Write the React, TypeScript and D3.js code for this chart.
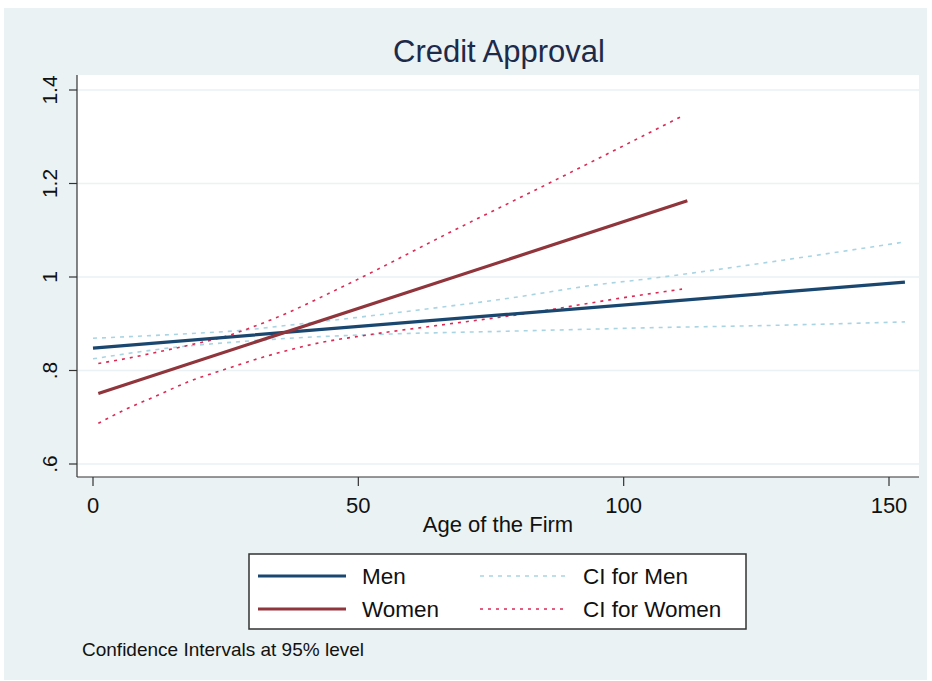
import React from "react";
import * as d3 from "d3";

// ---- data ----
const xTicks = [0, 50, 100, 150];
const yTicks = [0.6, 0.8, 1.0, 1.2, 1.4];
const yTickLabels = [".6", ".8", "1", "1.2", "1.4"];

const menAge = [0, 78, 153];
const menVal = [0.848, 0.92, 0.989];

const womenAge = [1, 56, 112];
const womenVal = [0.751, 0.955, 1.163];

const menCIAge = [0, 15, 28, 37, 56, 78, 96, 103, 130, 153];
const menUpper = [0.869, 0.877, 0.886, 0.897, 0.922, 0.954, 0.985, 0.994, 1.036, 1.075];
const menLower = [0.825, 0.849, 0.862, 0.869, 0.878, 0.884, 0.889, 0.891, 0.897, 0.904];

const womenUpAge = [1, 6, 12, 18, 25, 31, 37, 43, 49, 67, 86, 111];
const womenUpper = [0.815, 0.825, 0.839, 0.854, 0.873, 0.897, 0.925, 0.957, 0.99, 1.094, 1.201, 1.344];

const womenLoAge = [1, 6, 12, 18, 25, 31, 37, 43, 50, 56, 62, 68, 78, 103, 111];
const womenLower = [0.687, 0.716, 0.746, 0.776, 0.803, 0.825, 0.844, 0.86, 0.873, 0.883, 0.892, 0.901, 0.916, 0.961, 0.974];

const legendItems = ["Men", "Women", "CI for Men", "CI for Women"];

// ---- styles ----
const FONT = "'Liberation Sans', Arial, Helvetica, sans-serif";
const BG = "#eaf2f3";
const C_MEN = "#1a476f";
const C_WOMEN = "#90353b";
const C_CIMEN = "#a9d4e4";
const C_CIWOMEN = "#dc2a55";

export default function App() {
  const W = 932;
  const H = 681;
  const plot = { left: 77, right: 919, top: 75, bottom: 477 };
  const x = d3.scaleLinear().domain([0, 150]).range([93, 889]);
  const y = d3.scaleLinear().domain([0.6, 1.4]).range([464, 90]);

  const straight = d3
    .line<[number, number]>()
    .x((d) => x(d[0]))
    .y((d) => y(d[1]));
  const smooth = d3
    .line<[number, number]>()
    .x((d) => x(d[0]))
    .y((d) => y(d[1]))
    .curve(d3.curveMonotoneX);

  const zip = (a: number[], b: number[]) => a.map((v, i) => [v, b[i]] as [number, number]);

  const series = [
    { d: smooth(zip(menCIAge, menUpper)), c: C_CIMEN, w: 1.6, dash: "4,5" },
    { d: smooth(zip(menCIAge, menLower)), c: C_CIMEN, w: 1.6, dash: "4,5" },
    { d: smooth(zip(womenUpAge, womenUpper)), c: C_CIWOMEN, w: 1.6, dash: "3,5" },
    { d: smooth(zip(womenLoAge, womenLower)), c: C_CIWOMEN, w: 1.6, dash: "3,5" },
    { d: straight(zip(menAge, menVal)), c: C_MEN, w: 3.2, dash: undefined },
    { d: straight(zip(womenAge, womenVal)), c: C_WOMEN, w: 3.2, dash: undefined },
  ];

  const legend = { x: 249, y: 554, w: 497, h: 75 };
  const legendRows = [576, 609];
  const legendStyle = [
    { c: C_MEN, w: 3.2, dash: undefined },
    { c: C_WOMEN, w: 3.2, dash: undefined },
    { c: C_CIMEN, w: 1.6, dash: "4,5" },
    { c: C_CIWOMEN, w: 1.6, dash: "3,5" },
  ];

  return (
    <svg
      width={W}
      height={H}
      style={{ position: "absolute", left: 0, top: 0, background: "#fff" }}
      fontFamily={FONT}
    >
      <rect x={4} y={8} width={923} height={672} fill={BG} />
      <rect
        x={plot.left}
        y={plot.top}
        width={plot.right - plot.left}
        height={plot.bottom - plot.top}
        fill="#fff"
      />
      {/* gridlines */}
      {yTicks.map((t) => (
        <line
          key={"g" + t}
          x1={plot.left}
          x2={plot.right}
          y1={y(t)}
          y2={y(t)}
          stroke={BG}
          strokeWidth={1.6}
        />
      ))}
      {/* title */}
      <text x={499} y={62} textAnchor="middle" fontSize={31} fill="#1e2a4a">
        Credit Approval
      </text>
      {/* axes */}
      <line x1={plot.left} x2={plot.left} y1={plot.top} y2={plot.bottom} stroke="#333" strokeWidth={1.2} />
      <line x1={plot.left} x2={plot.right} y1={plot.bottom} y2={plot.bottom} stroke="#333" strokeWidth={1.2} />
      {yTicks.map((t, i) => (
        <g key={"yt" + t}>
          <line x1={plot.left - 8} x2={plot.left} y1={y(t)} y2={y(t)} stroke="#333" strokeWidth={1.2} />
          <text
            transform={`translate(57,${y(t)}) rotate(-90)`}
            textAnchor="middle"
            fontSize={21}
            fill="#111"
          >
            {yTickLabels[i]}
          </text>
        </g>
      ))}
      {xTicks.map((t) => (
        <g key={"xt" + t}>
          <line x1={x(t)} x2={x(t)} y1={plot.bottom} y2={plot.bottom + 9} stroke="#333" strokeWidth={1.2} />
          <text x={x(t)} y={513} textAnchor="middle" fontSize={22} fill="#111">
            {t}
          </text>
        </g>
      ))}
      <text x={498} y={532} textAnchor="middle" fontSize={22} fill="#111">
        Age of the Firm
      </text>
      {/* series */}
      {series.map((s, i) => (
        <path
          key={"s" + i}
          d={s.d || ""}
          fill="none"
          stroke={s.c}
          strokeWidth={s.w}
          strokeDasharray={s.dash}
        />
      ))}
      {/* legend */}
      <rect
        x={legend.x}
        y={legend.y}
        width={legend.w}
        height={legend.h}
        fill="#fff"
        stroke="#333"
        strokeWidth={1.5}
      />
      {legendItems.map((name, i) => {
        const col = i < 2 ? 0 : 1;
        const row = i % 2;
        const lx = col === 0 ? 258 : 480;
        const tx = col === 0 ? 362 : 583;
        const cy = legendRows[row];
        const st = legendStyle[i];
        return (
          <g key={name}>
            <line x1={lx} x2={lx + 88} y1={cy} y2={cy} stroke={st.c} strokeWidth={st.w} strokeDasharray={st.dash} />
            <text x={tx} y={cy + 8} fontSize={22.5} fill="#111">
              {name}
            </text>
          </g>
        );
      })}
      <text x={82} y={656} fontSize={19} fill="#111">
        Confidence Intervals at 95% level
      </text>
    </svg>
  );
}
